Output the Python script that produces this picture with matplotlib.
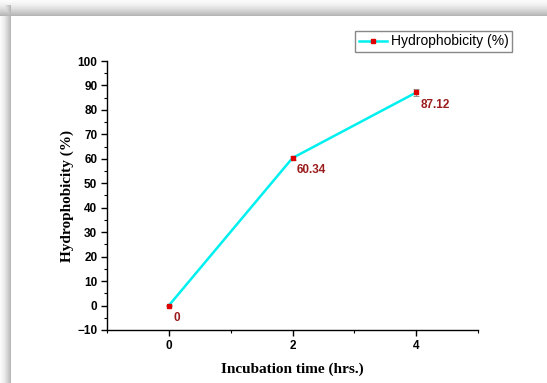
import numpy as np
import matplotlib.pyplot as plt
from matplotlib.ticker import MultipleLocator

# datos
tiempo = [0, 2, 4]
hidrofobicidad = [0, 60.34, 87.12]
error = [0.3, 1.0, 1.5]
etiquetas = ['0', '60.34', '87.12']

fig = plt.figure(figsize=(5.47, 3.83), dpi=100)

# fondo con sombra (como el recorte original)
bg = fig.add_axes([0, 0, 1, 1])
h, w = 383, 547
yy, xx = np.mgrid[0:h, 0:w]
top = np.clip(yy / 16.0, 0, 1)
left = np.clip(xx / 11.0, 0, 1)
sombra = np.ones((h, w))
sombra = np.where(yy < 16, 0.98 - 0.30 * top ** 1.5, sombra)
sombra = np.where((xx < 11) & (yy >= 5), np.minimum(sombra, 0.98 - 0.30 * left ** 1.5), sombra)
bg.imshow(sombra, cmap='gray', vmin=0, vmax=1, aspect='auto', interpolation='bilinear')
bg.axis('off')

ax = fig.add_axes([107 / 547, 1 - 330 / 383, (478 - 107) / 547, (330 - 61) / 383])
ax.patch.set_alpha(0)

ax.errorbar(tiempo, hidrofobicidad, yerr=error, fmt='none',
            ecolor='#999999', elinewidth=0.8, capsize=2, capthick=0.8)
ax.plot(tiempo, hidrofobicidad, color='#00f0f0', lw=1.8,
        marker='s', ms=3.5, mfc='#e00000', mec='#e00000',
        label='Hydrophobicity (%)')

for x, y, t in zip(tiempo, hidrofobicidad, etiquetas):
    ax.annotate(t, (x, y), xytext=(3, -11), textcoords='offset points',
                color='#9b1c1c', fontweight='bold', fontsize=8.5,
                family='Liberation Sans')

ax.set_xlim(-1, 5)
ax.set_ylim(-10, 100)
ax.set_xticks([0, 2, 4])
ax.xaxis.set_minor_locator(MultipleLocator(1))
ax.yaxis.set_major_locator(MultipleLocator(10))
ax.yaxis.set_minor_locator(MultipleLocator(5))
ax.spines['top'].set_visible(False)
ax.spines['right'].set_visible(False)
for s in ['left', 'bottom']:
    ax.spines[s].set_linewidth(1.0)
ax.tick_params(which='major', direction='out', length=4, width=1, pad=3)
ax.tick_params(which='minor', direction='out', length=2.5, width=0.8)
for lab in ax.get_xticklabels() + ax.get_yticklabels():
    lab.set_fontweight('bold')
    lab.set_fontsize(8.5)
    lab.set_family('Liberation Sans')

ax.set_xlabel('Incubation time (hrs.)', family='Liberation Serif',
              fontweight='bold', fontsize=11, labelpad=8)
ax.set_ylabel('Hydrophobicity (%)', family='Liberation Serif',
              fontweight='bold', fontsize=11, labelpad=2)

ax.legend(loc='upper right', bbox_to_anchor=(512 / 547, 1 - 31 / 383),
          bbox_transform=fig.transFigure, fancybox=False, edgecolor='#888888',
          prop={'family': 'Liberation Sans', 'size': 10}, handlelength=2.0,
          handletextpad=0.3, borderpad=0.25, borderaxespad=0, framealpha=1)

fig.savefig('out.png', dpi=100)
